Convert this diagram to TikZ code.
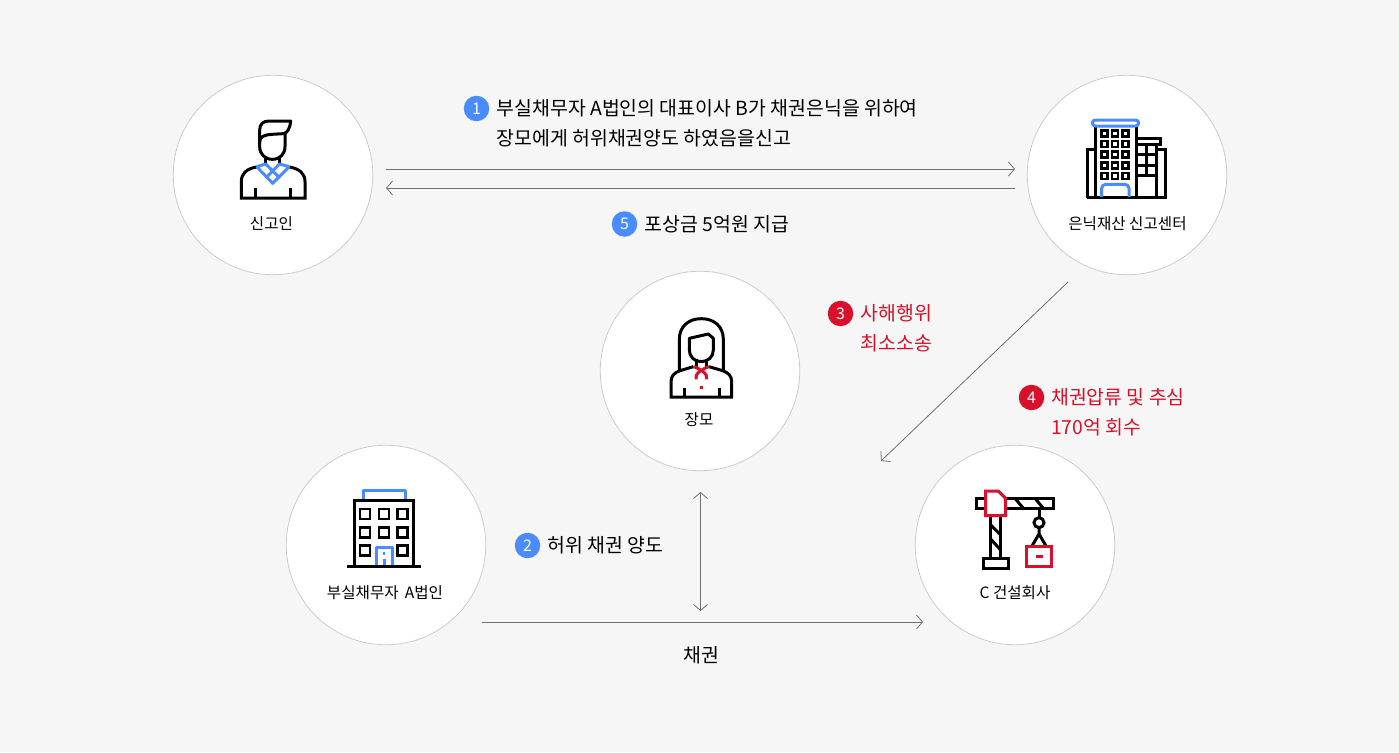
\documentclass[tikz,border=0pt]{standalone}
\usepackage{fontspec}
\setmainfont{Noto Sans CJK KR}
\usetikzlibrary{arrows.meta}
\definecolor{bgc}{HTML}{F6F6F6}
\definecolor{ringc}{HTML}{CCCCCC}
\definecolor{linec}{HTML}{707070}
\definecolor{bluec}{HTML}{4A8CFF}
\definecolor{redc}{HTML}{D9102A}
\definecolor{txt}{HTML}{000000}
\tikzset{
  x=1pt,y=-1pt,
  disc/.style={circle,draw=ringc,fill=white,line width=0.8pt,minimum size=199.5pt,inner sep=0pt},
  cap15/.style={text=txt,inner sep=0pt,font=\fontsize{15.6}{18}\selectfont},
  main/.style={text=txt,inner sep=0pt,anchor=west,align=left,font=\fontsize{19.4}{30}\selectfont},
  mainred/.style={main,text=redc},
  badge/.style={circle,minimum size=25.5pt,inner sep=0pt,text=white,font=\fontsize{16}{16}\selectfont},
  bb/.style={badge,fill=bluec},
  rb/.style={badge,fill=redc},
  conn/.style={draw=linec,line width=0.8pt,-{Straight Barb[length=6pt,width=14pt,line width=0.8pt]}},
  conn2/.style={draw=linec,line width=0.8pt,{Straight Barb[length=6pt,width=14pt,line width=0.8pt]}-{Straight Barb[length=6pt,width=14pt,line width=0.8pt]}},
  ik/.style={line width=3pt,draw=black,line cap=butt,line join=miter},
  ib/.style={line width=3pt,draw=bluec,line join=round},
  ir/.style={line width=3pt,draw=redc},
  icon/.style={x=0.33333pt,y=-0.33333pt}
}
\begin{document}
\begin{tikzpicture}
\useasboundingbox (0,0) rectangle (1399,752);
\fill[bgc] (0,0) rectangle (1399,752);
\node[disc] (reporter) at (273,175) {};
\node[disc] (center) at (1127,175) {};
\node[disc] (wife) at (700,371) {};
\node[disc] (debtor) at (386,545) {};
\node[disc] (builder) at (1015,545) {};
% person
\begin{scope}[shift={(200,100)},icon]
\draw[ik,line join=round] (179,130) -- (179,90) .. controls (179,72) and (190,63) .. (207,63) -- (272,63) .. controls (270,85) and (262,100) .. (250,101) -- (215,103) .. controls (195,104) and (179,110) .. (179,125);
\draw[ik,line join=round] (179,120) -- (179,140) .. controls (179,162) and (195,178) .. (217,178) .. controls (240,178) and (255,162) .. (255,140) -- (255,100);
\draw[ik] (197,170) -- (197,192) (238,170) -- (238,192);
\draw[ik] (170,201) .. controls (140,206) and (124,220) .. (124,245) -- (124,294) -- (315,294) -- (315,245) .. controls (315,220) and (298,206) .. (268,201);
\draw[ik] (165,265) -- (165,294) (272,265) -- (272,294);
\draw[ib] (170,200) -- (197,192) -- (240,235) (268,200) -- (238,192) -- (197,235) (170,200) -- (218,250) -- (268,200);
\end{scope}
% tower
\begin{scope}[shift={(1060,100)},icon]
\draw[ik] (105,78) -- (105,293) (228,78) -- (228,293);
\draw[ik] (81,293) -- (316,293) -- (316,148) -- (290,148) (105,148) -- (81,148) -- (81,293);
\draw[ik] (228,115) -- (300,115) -- (300,133) -- (228,133);
\draw[ik] (290,133) -- (290,293);
\draw[ik] (228,162) -- (290,162) (228,195) -- (290,195) (228,226) -- (290,226) (260,133) -- (260,226);
\foreach \y in {100,132,164,197,228} \foreach \x in {133,165,197} \draw[ik,line width=2.8pt] (\x-9,\y-9) rectangle (\x+9,\y+9);
\draw[ib,rounded corners=3pt] (97,60) rectangle (236,78);
\draw[ib,rounded corners=4pt] (125,291) -- (125,253) -- (207,253) -- (207,291);
\end{scope}
% woman
\begin{scope}[shift={(640,300)},icon]
\draw[ik] (118,210) -- (118,118) .. controls (118,80) and (145,56) .. (184,56) .. controls (223,56) and (250,80) .. (250,118) -- (250,210);
\draw[ik,line join=round] (148,115) -- (205,102) -- (220,115) -- (220,150) .. controls (220,170) and (205,185) .. (184,185) .. controls (163,185) and (148,170) .. (148,150) -- cycle;
\draw[ik] (170,178) -- (170,200) (200,178) -- (200,200);
\draw[ik] (160,200) -- (120,212) .. controls (103,218) and (93,228) .. (93,245) -- (93,291) -- (275,291) -- (275,245) .. controls (275,228) and (265,218) .. (248,212) -- (207,200);
\draw[ik] (132,265) -- (132,291) (237,265) -- (237,291);
\draw[ir] (160,200) .. controls (178,205) and (206,222) .. (200,238) (207,200) .. controls (189,205) and (162,222) .. (168,238);
\fill[redc] (180,257) rectangle (190,267);
\end{scope}
% office
\begin{scope}[shift={(320,470)},icon]
\draw[ib] (130,88) -- (130,60) -- (255,60) -- (255,88);
\draw[ik] (103,288) -- (103,90) -- (281,90) -- (281,288);
\draw[ik] (82,288) -- (302,288);
\foreach \y in {132,188} \foreach \x in {135,192,248} \draw[ik,line width=2.8pt] (\x-15,\y-15) rectangle (\x+15,\y+15);
\foreach \x in {135,248} \draw[ik,line width=2.8pt] (\x-15,242-15) rectangle (\x+15,242+15);
\draw[ib] (168,286) -- (168,232) -- (217,232) -- (217,286);
\draw[ib] (192,268) -- (192,286);
\fill[bluec] (188.5,246) rectangle (195.5,254);
\end{scope}
% crane
\begin{scope}[shift={(960,470)},icon]
\draw[ik] (48,85) rectangle (280,115);
\draw[ik] (90,137) -- (90,264) (122,137) -- (122,264);
\draw[ik] (90,163) -- (122,195) (90,205) -- (122,240);
\draw[ik] (70,264) rectangle (145,295);
\draw[ik] (165,85) -- (190,115) (225,85) -- (250,115);
\draw[ik] (237,115) -- (237,143);
\draw[ik] (237,158) circle[radius=15];
\draw[ik] (237,173) -- (237,192) (237,192) -- (217,226) (237,192) -- (257,226);
\draw[ir,fill=white] (77,63) -- (115,63) -- (137,85) -- (137,137) -- (77,137) -- cycle;
\draw[ir] (199,228) rectangle (275,290);
\draw[ir] (227,258) -- (248,258);
\end{scope}
% captions
\node[cap15] (t1) at (271.5,224) {신고인};
\node[cap15] (t2) at (1127.5,224) {은닉재산 신고센터};
\node[cap15] (t3) at (699,420) {장모};
\node[cap15] (t4) at (385,593) {부실채무자 \,A법인};
\node[cap15] (t5) at (1015,593) {C 건설회사};
% connectors
\coordinate (a1s) at (386,169); \coordinate (a1e) at (1015,169);
\coordinate (a5s) at (1015,188); \coordinate (a5e) at (386,188);
\coordinate (a3s) at (1068,282); \coordinate (a3e) at (881,461);
\coordinate (a2s) at (700.5,492); \coordinate (a2e) at (700.5,611);
\coordinate (a6s) at (482,622); \coordinate (a6e) at (923,622);
\draw[conn] (a1s) -- (a1e);
\draw[conn] (a5s) -- (a5e);
\draw[conn] (a3s) -- (a3e);
\draw[conn2] (a2s) -- (a2e);
\draw[conn] (a6s) -- (a6e);
% labels
\node[bb] (b1) at (476.5,108.5) {1};
\node[main] (l1) at (496.5,123.2) {부실채무자 A법인의 대표이사 B가 채권은닉을 위하여\\장모에게 허위채권양도 하였음을신고};
\node[bb] (b5) at (624.5,224) {5};
\node[main] (l5) at (644.5,223.8) {포상금 5억원 지급};
\node[rb] (b3) at (840.5,313.5) {3};
\node[mainred] (l3) at (860.5,328.2) {사해행위\\최소소송};
\node[rb] (b4) at (1031.5,397.5) {4};
\node[mainred] (l4) at (1051,412.2) {채권압류 및 추심\\170억 회수};
\node[bb] (b2) at (527.5,545.5) {2};
\node[main] (l2) at (547.5,545.2) {허위 채권 양도};
\node[main,anchor=center] (l6) at (701,655.2) {채권};
\end{tikzpicture}
\end{document}
